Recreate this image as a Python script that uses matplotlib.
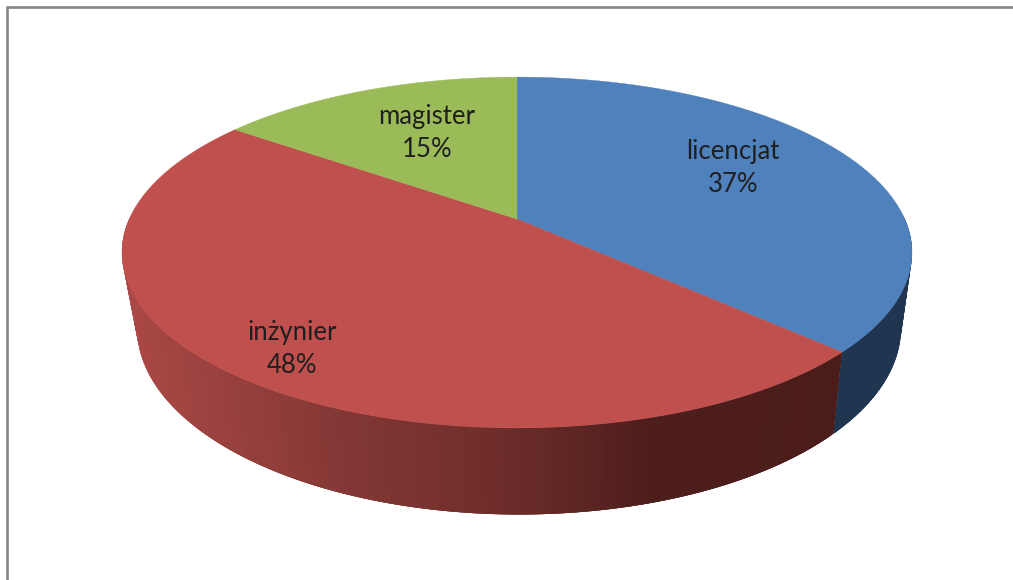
import numpy as np
import matplotlib
matplotlib.use('Agg')
import matplotlib.pyplot as plt

labels = ['licencjat', 'inżynier', 'magister']
shares = [37, 48, 15]

colors = ['#4F81BD', '#C0504D', '#9BBB59']
side_colors = ['#1F3550', None, '#5E7232']
label_pos = [(733, 168), (292, 349), (427, 133)]

# perspective of the disc, in pixels
K = 0.191
TOP = dict(cx=517, cy=219, r=387.7, b=169)
BOTTOM = dict(cx=519, cy=292, r=375, b=180)

# gradient on the red side wall
GRAD_X = [125, 350, 500, 650, 840]
GRAD_R = [170, 130, 110, 78, 74]
GRAD_G = [72, 55, 45, 30, 28]
GRAD_B = [70, 52, 42, 28, 26]


def project(theta, disc):
    # theta is clockwise from the top of the pie, in radians
    u = np.sin(theta)
    v = -np.cos(theta)
    w = 1 / (1 - K * v)
    return disc['cx'] + disc['r'] * u * w, disc['cy'] + disc['b'] * v * w


def side_color(i, x):
    if side_colors[i] is not None:
        return side_colors[i]
    return (np.interp(x, GRAD_X, GRAD_R) / 255,
            np.interp(x, GRAD_X, GRAD_G) / 255,
            np.interp(x, GRAD_X, GRAD_B) / 255)


fig = plt.figure(figsize=(10.13, 5.8), dpi=100)
ax = fig.add_axes([0, 0, 1, 1])
ax.set_xlim(0, 1013)
ax.set_ylim(580, 0)
ax.axis('off')

# chart frame, only left and top are in the crop
ax.plot([7, 7, 1013], [580, 7, 7], color='#868686', lw=1.9, solid_joinstyle='miter')

edges = 2 * np.pi * np.cumsum([0] + shares) / np.sum(shares)

# side walls, only the front part shows. strips overlap so no seams appear
for i in range(len(shares)):
    steps = np.linspace(edges[i], edges[i + 1], int(shares[i] * 8) + 2)
    for j in range(len(steps) - 1):
        a = steps[j]
        b = steps[min(j + 3, len(steps) - 1)]
        if -np.cos(a) < 0 and -np.cos(b) < 0:
            continue
        x1, y1 = project(a, TOP)
        x2, y2 = project(b, TOP)
        x3, y3 = project(b, BOTTOM)
        x4, y4 = project(a, BOTTOM)
        c = side_color(i, x1)
        ax.fill([x1, x2, x3, x4], [y1, y2, y3, y4], color=c, lw=0, zorder=2)

# top face
for i in range(len(shares)):
    steps = np.linspace(edges[i], edges[i + 1], 200)
    xs, ys = project(steps, TOP)
    xs = np.r_[TOP['cx'], xs]
    ys = np.r_[TOP['cy'], ys]
    ax.fill(xs, ys, color=colors[i], lw=0.3, zorder=3)

for i in range(len(shares)):
    ax.text(label_pos[i][0], label_pos[i][1], '%s\n%d%%' % (labels[i], shares[i]),
            ha='center', va='center', family='Lato', fontsize=18.5, color='#1f1f1f',
            linespacing=1.42, zorder=4)

fig.savefig('out.png', dpi=100)
